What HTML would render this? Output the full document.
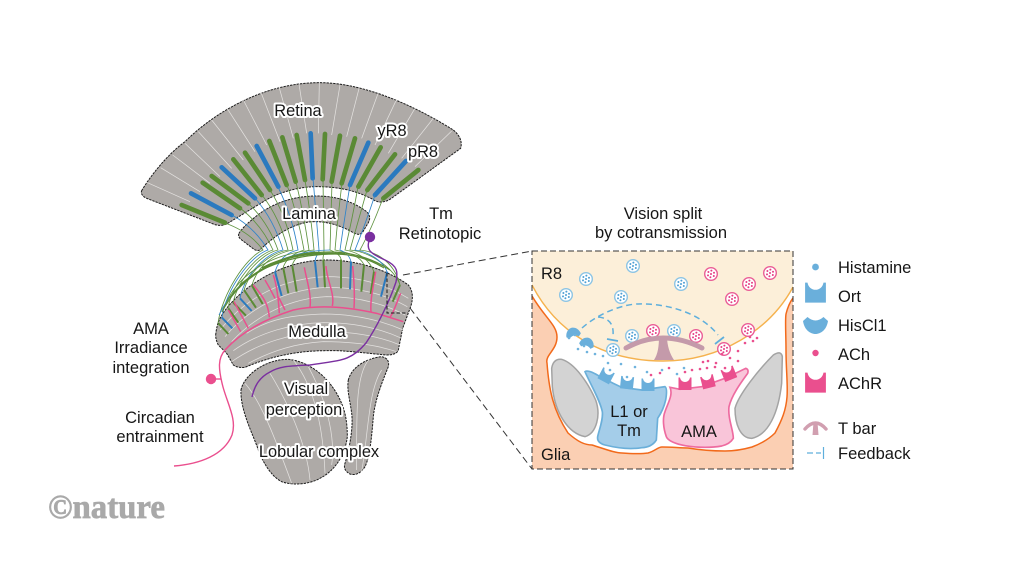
<!DOCTYPE html>
<html><head><meta charset="utf-8"><style>
html,body{margin:0;padding:0;background:#fff}
svg{display:block}
text{font-family:"Liberation Sans",sans-serif;font-size:16.5px;fill:#161616}
.h{paint-order:stroke;stroke:#fff;stroke-width:4px;stroke-linejoin:round;font-size:16.4px}
.m{text-anchor:middle}
.o{fill:#aeaaa7;stroke:#1c1c1c;stroke-dasharray:7 3;stroke-width:3}
.w{fill:none;stroke:#e4e2e0;stroke-width:2.2}
.g{stroke:#5a8a35}.b{stroke:#2b7abf}.p{stroke:#ea4f8e}
.bars line{stroke-width:14;stroke-linecap:round}
.mb line{stroke-width:6;stroke-linecap:butt}
.t path{fill:none;stroke-width:.85}
.tg{stroke:#5f9340}.tb{stroke:#2f84c9}
.dots circle{r:1.3px}
</style></head><body>
<svg width="1024" height="576" viewBox="0 0 1024 576" xmlns="http://www.w3.org/2000/svg">
<defs>
<g id="vb"><circle r="6.3" fill="#fff" stroke="#8cc4e4" stroke-width="1.4"/><g fill="#4e9fd4"><circle cx="-2.6" cy="-2" r="1"/><circle cx="0.4" cy="-3.4" r="1"/><circle cx="3" cy="-1.2" r="1"/><circle cx="-3" cy="1.4" r="1"/><circle cx="0" cy="0" r="1"/><circle cx="2.8" cy="2" r="1"/><circle cx="-0.6" cy="3.2" r="1"/></g></g>
<g id="vp"><circle r="6.3" fill="#fff" stroke="#ea5d96" stroke-width="1.4"/><g fill="#e63c82"><circle cx="-2.6" cy="-2" r="1"/><circle cx="0.4" cy="-3.4" r="1"/><circle cx="3" cy="-1.2" r="1"/><circle cx="-3" cy="1.4" r="1"/><circle cx="0" cy="0" r="1"/><circle cx="2.8" cy="2" r="1"/><circle cx="-0.6" cy="3.2" r="1"/></g></g>
<path id="rc" d="M-6.5,-6.5 L-5,-6.5 C-4,-0.5 4,-0.5 5,-6.5 L6.5,-6.5 V6 H-6.5Z"/>
<path id="cr" d="M-12.5,-4 C-11,6 -4,9 0,9 C4,9 11,6 12.5,-4 L8,-8 Q0,-1 -8,-8 Z"/>
<clipPath id="ins"><rect x="532" y="251" width="261" height="218"/></clipPath>
</defs>

<!-- Retina + Lamina (zoom 1 coordinates) -->
<g transform="translate(130 70) scale(.33333)">
<path class="o" d="M35,362 C60,320 110,255 165,215 C240,140 390,38 568,38 C700,38 850,105 970,180 Q1000,205 992,235 L780,388 Q755,402 735,392 C680,360 620,350 560,350 C500,350 440,370 400,395 L290,462 Q270,470 250,462 L50,385 Q30,375 35,362Z"/>
<g class="w">
<path d="M50,337L180,395M92,293L210,365M128,255L240,340M165,220L270,320M205,185L305,295M245,150L340,270M290,113L375,245M340,90L410,225M392,65L450,215M447,50L490,205M507,42L530,190M568,38L565,190M630,45L605,195M688,52L650,200M745,68L695,205M800,88L735,225M855,115L775,250M910,145L815,265M965,183L855,290"/>
</g>
<g class="bars">
<line class="g" x1="155" y1="405" x2="285" y2="458"/>
<line class="b" x1="183" y1="370" x2="305" y2="435"/>
<line class="g" x1="218" y1="338" x2="330" y2="415"/>
<line class="g" x1="245" y1="318" x2="355" y2="400"/>
<line class="b" x1="275" y1="292" x2="375" y2="385"/>
<line class="g" x1="310" y1="268" x2="395" y2="375"/>
<line class="g" x1="345" y1="248" x2="420" y2="360"/>
<line class="b" x1="380" y1="228" x2="445" y2="350"/>
<line class="g" x1="418" y1="213" x2="470" y2="345"/>
<line class="g" x1="457" y1="202" x2="497" y2="335"/>
<line class="g" x1="500" y1="195" x2="525" y2="330"/>
<line class="b" x1="542" y1="190" x2="548" y2="325"/>
<line class="g" x1="585" y1="192" x2="578" y2="328"/>
<line class="g" x1="630" y1="197" x2="605" y2="335"/>
<line class="g" x1="675" y1="205" x2="635" y2="340"/>
<line class="b" x1="715" y1="218" x2="660" y2="345"/>
<line class="g" x1="752" y1="232" x2="685" y2="350"/>
<line class="g" x1="795" y1="253" x2="712" y2="360"/>
<line class="b" x1="828" y1="273" x2="735" y2="375"/>
<line class="g" x1="865" y1="300" x2="760" y2="385"/>
</g>
<path class="o" d="M327,490 Q340,470 365,450 C420,400 490,378 560,378 C620,378 670,395 710,425 Q725,440 715,458 L697,488 Q688,498 670,488 C630,465 590,455 555,455 C500,455 440,490 392,538 Q385,545 372,538 L335,510 Q322,500 327,490Z"/>
</g>

<!-- Medulla (zoom 2 coordinates) -->
<g transform="translate(170 230) scale(.33333)">
<path class="o" d="M137,315 Q140,285 150,265 C190,190 320,90 470,90 C570,90 660,125 715,165 Q735,190 722,230 L698,295 L685,360 Q680,375 650,375 C590,370 520,360 470,362 C380,362 300,380 225,412 Q205,415 190,405 L170,370 L145,345 Q137,330 137,315Z"/>
<g class="w">
<path d="M150,300 C230,200 340,145 470,140 C570,140 650,165 715,205"/>
<path d="M165,320 C240,230 350,178 470,172 C570,172 650,195 712,230"/>
<path d="M185,335 C260,255 360,205 470,200 C570,200 650,225 705,255"/>
<path d="M230,310 C300,265 370,255 460,252 C550,252 630,270 700,300"/>
<path d="M190,362 C270,305 370,280 460,278 C550,278 630,295 695,325"/>
<path d="M185,395 C270,335 370,310 460,305 C550,305 630,320 690,345"/>
<path d="M235,400 C310,360 380,340 460,335 C550,335 620,345 680,365"/>
</g>
<g class="mb">
<line class="g" x1="145" y1="280" x2="175" y2="312"/>
<line class="b" x1="155" y1="262" x2="187" y2="295"/>
<line class="g" x1="175" y1="235" x2="205" y2="278"/>
<line class="g" x1="190" y1="218" x2="228" y2="257"/>
<line class="b" x1="210" y1="205" x2="245" y2="243"/>
<line class="g" x1="222" y1="180" x2="258" y2="233"/>
<line class="g" x1="245" y1="165" x2="278" y2="222"/>
<line class="b" x1="315" y1="125" x2="335" y2="198"/>
<line class="g" x1="340" y1="115" x2="355" y2="190"/>
<line class="g" x1="367" y1="108" x2="380" y2="185"/>
<line class="b" x1="435" y1="95" x2="443" y2="172"/>
<line class="g" x1="460" y1="88" x2="465" y2="172"/>
<line class="g" x1="513" y1="88" x2="513" y2="175"/>
<line class="b" x1="543" y1="95" x2="540" y2="178"/>
<line class="g" x1="582" y1="105" x2="574" y2="185"/>
<line class="g" x1="612" y1="125" x2="602" y2="192"/>
<line class="b" x1="652" y1="125" x2="633" y2="200"/>
<line class="g" x1="690" y1="165" x2="668" y2="215"/>
</g>
<g fill="none" stroke="#ea4f8e" stroke-width="4.5">
<path d="M165,360 C220,300 300,262 370,240 C450,222 540,232 620,250 L700,275"/>
<path d="M175,240 L212,305M192,215 L235,295M250,165 C270,190 295,215 298,262M285,150 C300,175 310,195 315,205M310,135 C320,165 325,200 328,250M325,200 L345,240M403,112 C410,150 425,195 420,232M468,108 C470,150 495,190 487,228M548,108 C552,150 555,190 552,235M617,125 C610,170 600,210 603,245M692,190 C680,215 675,240 660,262"/>
</g>
</g>

<!-- Lobula (zoom 3 coordinates) -->
<g transform="translate(160 350) scale(.33333)">
<path class="o" d="M243,120 C250,80 310,28 385,28 C450,35 500,80 530,130 C550,165 562,200 562,260 C555,320 520,365 480,385 C450,402 400,408 365,395 C335,380 310,340 295,300 C280,255 240,180 243,120Z"/>
<path class="o" d="M565,90 C575,50 620,25 665,20 Q690,25 685,50 C665,100 645,150 640,200 C635,260 630,320 615,350 Q595,380 570,372 Q548,360 555,340 C570,290 580,230 575,190 C570,150 560,120 565,90Z"/>
<g class="w">
<path d="M255,100 C300,150 340,250 395,400"/>
<path d="M330,70 C380,150 440,280 450,390"/>
<path d="M400,30 C470,120 490,250 495,370"/>
<path d="M445,50 C510,170 525,280 515,345"/>
<path d="M630,25 C585,70 590,200 590,360"/>
<path d="M665,60 C625,120 625,250 605,365"/>
</g>
</g>

<!-- Fibres -->
<g class="t">
<path class="tg" d="M225,223 Q250,232 263,250 C245,258 222,295 218,323"/>
<path class="tb" d="M232,215 Q255,228 268,250 C250,256 226,290 222,317"/>
<path class="tg" d="M240,208 Q262,225 273,250 C255,255 232,285 228,308"/>
<path class="tg" d="M248,203 Q268,222 278,250 C260,254 238,280 233,303"/>
<path class="tb" d="M255,198 Q274,220 283,250 C265,254 245,275 240,298"/>
<path class="tg" d="M262,195 Q280,218 288,250 C270,253 250,270 244,290"/>
<path class="tg" d="M270,190 Q286,215 293,250 C275,253 258,265 252,285"/>
<path class="tb" d="M278,187 Q292,215 298,250 C285,253 278,262 275,272"/>
<path class="tg" d="M287,185 Q298,215 304,250 C295,253 286,258 283,268"/>
<path class="tg" d="M296,182 Q304,215 309,250 C300,254 294,258 292,266"/>
<path class="tg" d="M305,180 Q311,215 314,250 C290,252 240,262 222,312"/>
<path class="tb" d="M313,178 L319,250 C319,254 315,256 315,262"/>
<path class="tg" d="M323,179 L324,250 C324,254 323,256 323,259"/>
<path class="tg" d="M332,182 L330,250 C335,252 340,255 341,259"/>
<path class="tg" d="M342,183 Q338,215 335,250 C345,252 360,255 364,265"/>
<path class="tb" d="M350,185 Q345,215 340,250 C345,252 350,256 351,262"/>
<path class="tg" d="M358,187 Q352,220 345,250 C358,252 370,260 374,272"/>
<path class="tg" d="M367,190 Q358,222 350,250 C372,252 395,270 400,285"/>
<path class="tb" d="M375,195 Q365,225 355,250 C370,252 384,262 387,272"/>
<path class="tg" d="M383,198 Q372,228 360,250 C380,252 395,265 400,285"/>
<path class="tb" d="M330,250 C280,250 235,280 219,315"/>
<path class="tg" d="M320,252 C280,252 235,280 224,308"/>
</g>
<g fill="none" stroke="#5a8a35">
<path d="M230,298 C255,266 295,252 330,252 C350,252 372,258 390,270" stroke-width="1.2"/>
<path d="M240,285 C262,264 300,254 335,254 C352,254 370,259 384,268" stroke-width="1.2"/>
<path d="M262,268 C285,256 310,252 345,254" stroke-width="1.8"/>
<path d="M222,312 C240,278 270,258 315,252" stroke-width=".9"/>
</g>

<!-- Purple / pink connectors -->
<path d="M370,237 C366,250 368,252 385,260 C398,266 398,272 396,282 C390,300 378,325 366,343 C350,362 340,360 310,365 C290,366 280,366 270,372 C258,378 254,388 252,397" fill="none" stroke="#7a2fa0" stroke-width="1.4"/>
<circle cx="370" cy="237" r="5.2" fill="#7a2fa0"/>
<path d="M225,350 C218,358 218,368 223,387 C228,405 237,420 232,435 C224,455 200,464 174,466" fill="none" stroke="#ea4f8e" stroke-width="1.4"/>
<path d="M211,379 H221" stroke="#ea4f8e" stroke-width="1.4"/>
<circle cx="211" cy="379" r="5.2" fill="#ea4f8e"/>

<!-- Zoom box and lead lines -->
<path d="M387,273 V313 H408" fill="none" stroke="#1c1c1c" stroke-width="1" stroke-dasharray="3.5 2"/>
<path d="M403,275 L532,251 M410,308 L532,469" fill="none" stroke="#333" stroke-width="1" stroke-dasharray="7 4"/>

<!-- Inset -->
<g clip-path="url(#ins)">
<rect x="532" y="251" width="261" height="218" fill="#fbcfb3"/>
<path d="M532,280 V296 C545,318 557,325 557,337 C557,350 545,355 547,363 C549,390 553,410 568,433 C578,442 585,445 592,445 C605,449 615,453 622,453 C635,454 642,454 648,453 C655,451 658,447 662,447 C672,447 680,448 688,448 C700,450 712,451 725,451 C735,451 745,449 752,447 C760,444 768,440 775,433 C782,420 786,410 787,397 C788,385 786,370 786,350 C786,335 785,320 786,314 C788,306 790,302 793,298 V280Z" fill="#fff"/>
<path d="M532,296 C545,318 557,325 557,337 C557,350 545,355 547,363 C549,390 553,410 568,433 C578,442 585,445 592,445 C605,449 615,453 622,453 C635,454 642,454 648,453 C655,451 658,447 662,447 C672,447 680,448 688,448 C700,450 712,451 725,451 C735,451 745,449 752,447 C760,444 768,440 775,433 C782,420 786,410 787,397 C788,385 786,370 786,350 C786,335 785,320 786,314 C788,306 790,302 793,298" fill="none" stroke="#f26a1b" stroke-width="1.5"/>
<path d="M532,251 H793 V287 C770,330 720,361 663,361 C600,361 555,330 532,285Z" fill="#fcefd9"/>
<path d="M532,285 C555,330 600,361 663,361 C720,361 770,330 793,287" fill="none" stroke="#f5b24e" stroke-width="1.4"/>
</g>

<!-- Inset cells (zoom 5 coords) -->
<g transform="translate(525 340) scale(.33333)">
<path d="M80,85 Q85,55 110,58 C150,70 190,130 212,180 C228,225 215,280 180,290 C130,280 90,220 82,140Z" fill="#d3d3d3" stroke="#a3a3a3" stroke-width="4.5"/>
<path d="M772,50 Q768,30 745,45 C700,90 640,165 630,205 C630,250 645,295 680,295 C730,285 760,220 770,130Z" fill="#d3d3d3" stroke="#a3a3a3" stroke-width="4.5"/>
<path d="M180,95 Q190,88 225,110 L265,130 L290,142 L350,150 L420,140 Q428,145 422,180 Q415,210 398,235 L394,300 Q380,322 350,323 C320,328 280,325 240,315 Q215,308 218,290 C222,270 235,240 232,215 C225,180 195,130 180,95Z" fill="#a4cde9" stroke="#6bafd9" stroke-width="5"/>
<path d="M435,142 L465,148 L530,140 L600,115 L662,85 Q672,88 668,100 C650,125 620,165 612,200 C608,235 625,270 625,295 Q615,312 590,318 C550,325 500,322 470,315 Q430,305 424,290 C415,265 412,235 420,215 C428,190 445,165 435,142Z" fill="#f9c5d9" stroke="#ee6ba0" stroke-width="5"/>
</g>
<g fill="#6aafdb">
<use href="#rc" transform="translate(606 376) rotate(28)"/>
<use href="#rc" transform="translate(627 383) rotate(6)"/>
<use href="#rc" transform="translate(648 385)"/>
</g>
<g fill="#ea4f8e">
<use href="#rc" transform="translate(685 384)"/>
<use href="#rc" transform="translate(708 382) rotate(-14)"/>
<use href="#rc" transform="translate(729 374) rotate(-22)"/>
</g>
<g fill="#6aafdb">
<use href="#cr" transform="translate(573 333) rotate(165) scale(.6)"/>
<use href="#cr" transform="translate(587 343) rotate(195) scale(.6)"/>
</g>

<!-- Vesicles -->
<use href="#vb" x="566" y="295"/><use href="#vb" x="586" y="279"/><use href="#vb" x="633" y="266"/><use href="#vb" x="621" y="297"/><use href="#vb" x="681" y="284"/><use href="#vb" x="632" y="336"/><use href="#vb" x="674" y="331"/><use href="#vb" x="613" y="350"/>
<use href="#vp" x="711" y="274"/><use href="#vp" x="770" y="273"/><use href="#vp" x="749" y="284"/><use href="#vp" x="732" y="299"/><use href="#vp" x="653" y="331"/><use href="#vp" x="696" y="336"/><use href="#vp" x="748" y="330"/><use href="#vp" x="724" y="349"/>

<!-- T bar -->
<path d="M626,348 Q662,328 702,348" fill="none" stroke="#c49aaa" stroke-width="5" stroke-linecap="round"/>
<path d="M659,336 H667 C667,346 670,354 674,360 L654,360 C658,354 659,346 659,336Z" fill="#c49aaa"/>

<!-- Feedback -->
<g fill="none" stroke="#5fafdc" stroke-width="1.5">
<path d="M582,328 C600,312 625,304 638,304 C665,303 700,312 718,335" stroke-dasharray="6 4"/>
<path d="M598,317 C610,318 614,325 613,336" stroke-dasharray="6 4"/>
<path d="M607,339 L618,341 M715,344 L724,337" stroke-width="1.8"/>
</g>

<!-- Transmitter dots -->
<g class="dots" fill="#6fb3dd">
<circle cx="569" cy="338" r="1"/><circle cx="578" cy="349" r="1.1"/><circle cx="587" cy="352" r="1"/><circle cx="595" cy="354" r="1.1"/><circle cx="603" cy="356" r="1"/><circle cx="608" cy="363" r="1.1"/><circle cx="621" cy="364" r="1"/><circle cx="635" cy="367" r="1.1"/><circle cx="610" cy="370" r="1"/><circle cx="627" cy="377" r="1.1"/><circle cx="647" cy="372" r="1"/><circle cx="662" cy="370" r="1.1"/><circle cx="684" cy="368" r="1"/><circle cx="677" cy="374" r="1"/><circle cx="575" cy="335" r="1"/><circle cx="584" cy="346" r="1"/>
</g>
<g class="dots" fill="#ea4f8e">
<circle cx="708" cy="361" r="1"/><circle cx="703" cy="362" r="1"/><circle cx="716" cy="363" r="1.1"/><circle cx="738" cy="351" r="1"/><circle cx="738" cy="361" r="1"/><circle cx="722" cy="354" r="1"/><circle cx="730" cy="358" r="1"/><circle cx="750" cy="337" r="1"/><circle cx="753" cy="341" r="1"/><circle cx="757" cy="338" r="1"/><circle cx="745" cy="343" r="1"/><circle cx="707" cy="368" r="1"/><circle cx="715" cy="367" r="1"/><circle cx="725" cy="368" r="1"/><circle cx="692" cy="370" r="1"/><circle cx="700" cy="369" r="1"/><circle cx="669" cy="368" r="1"/><circle cx="660" cy="373" r="1"/><circle cx="651" cy="375" r="1"/><circle cx="685" cy="372" r="1"/><circle cx="733" cy="370" r="1"/>
</g>
<rect x="532" y="251" width="261" height="218" fill="none" stroke="#333" stroke-width="1" stroke-dasharray="6 3"/>

<!-- Legend glyphs -->
<circle cx="815.5" cy="267" r="3.4" fill="#6aafdb"/>
<use href="#rc" transform="translate(815.5 293) scale(1.6)" fill="#6aafdb"/>
<use href="#cr" transform="translate(815.5 325)" fill="#6aafdb"/>
<circle cx="815.5" cy="353" r="3.2" fill="#ea4f8e"/>
<use href="#rc" transform="translate(815.5 383) scale(1.6)" fill="#ea4f8e"/>
<path d="M805,429 Q815.5,417 826,429" fill="none" stroke="#d19fb0" stroke-width="3.4" stroke-linecap="round"/>
<path d="M813.5,422 H817.5 L818.5,435 H812.5Z" fill="#d19fb0"/>
<path d="M807,453 H813 M816,453 H821" stroke="#5fafdc" stroke-width="1.2" fill="none"/>
<path d="M823.5,447 V459" stroke="#5fafdc" stroke-width="1.2" fill="none"/>

<!-- Labels -->
<text class="h m" x="298" y="116">Retina</text>
<text class="h m" x="392" y="136">yR8</text>
<text class="h m" x="423" y="157">pR8</text>
<text class="h m" x="309" y="219">Lamina</text>
<text class="h m" x="317" y="337">Medulla</text>
<text class="h m" x="306" y="394">Visual</text>
<text class="h m" x="304" y="415">perception</text>
<text class="h m" x="319" y="457">Lobular complex</text>
<text class="m" x="441" y="219">Tm</text>
<text class="m" x="440" y="239">Retinotopic</text>
<text class="m" x="151" y="334">AMA</text>
<text class="m" x="151" y="353">Irradiance</text>
<text class="m" x="151" y="373">integration</text>
<text class="m" x="160" y="423">Circadian</text>
<text class="m" x="160" y="442">entrainment</text>
<text class="m" x="663" y="219">Vision split</text>
<text class="m" x="661" y="238">by cotransmission</text>
<text x="541" y="279">R8</text>
<text x="541" y="460">Glia</text>
<text class="m" x="629" y="417">L1 or</text>
<text class="m" x="629" y="436">Tm</text>
<text class="m" x="699" y="437">AMA</text>
<text x="838" y="273">Histamine</text>
<text x="838" y="302">Ort</text>
<text x="838" y="331">HisCl1</text>
<text x="838" y="360">ACh</text>
<text x="838" y="389">AChR</text>
<text x="838" y="434">T bar</text>
<text x="838" y="459">Feedback</text>
<text x="48" y="518" style="font-family:'Liberation Serif',serif;font-size:34px;font-weight:bold;fill:#a9a9a9;stroke:#a9a9a9;stroke-width:.7px" textLength="117" lengthAdjust="spacingAndGlyphs">©nature</text>
</svg>
</body></html>
